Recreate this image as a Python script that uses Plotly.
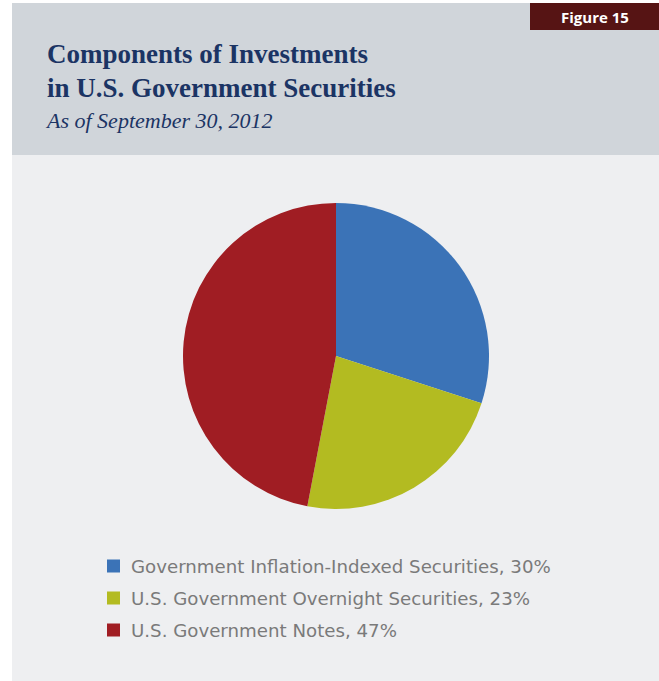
import plotly.graph_objects as go

# Portfolio components, percent of total
categories = [
    "Government Inflation-Indexed Securities",
    "U.S. Government Overnight Securities",
    "U.S. Government Notes",
]
shares = [30, 23, 47]
colors = ["#3b73b7", "#b3bb21", "#a01d23"]

W, H = 659, 681


def px(x):
    return x / W


def py(y):
    return 1 - y / H


fig = go.Figure(
    go.Pie(
        labels=categories,
        values=shares,
        marker=dict(colors=colors, line=dict(width=0)),
        sort=False,
        direction="clockwise",
        rotation=0,
        textinfo="none",
        hoverinfo="label+percent",
        showlegend=False,
        domain=dict(x=[px(183), px(489)], y=[py(509), py(203)]),
    )
)

shapes = [
    # header band
    dict(type="rect", xref="paper", yref="paper", x0=px(12), x1=1, y0=py(155), y1=py(3),
         fillcolor="#d0d5da", line=dict(width=0), layer="below"),
    # chart body
    dict(type="rect", xref="paper", yref="paper", x0=px(12), x1=1, y0=0, y1=py(155),
         fillcolor="#eeeff1", line=dict(width=0), layer="below"),
    # figure tag
    dict(type="rect", xref="paper", yref="paper", x0=px(530), x1=1, y0=py(30), y1=py(3),
         fillcolor="#561414", line=dict(width=0), layer="below"),
]

annotations = [
    dict(text="<b>Figure 15</b>", x=px(595), y=py(17), xref="paper", yref="paper",
         xanchor="center", yanchor="middle", showarrow=False,
         font=dict(family="Open Sans", size=15, color="#ffffff")),
    dict(text="<b>Components of Investments</b>", x=px(45), y=py(54), xref="paper", yref="paper",
         xanchor="left", yanchor="middle", showarrow=False,
         font=dict(family="Liberation Serif", size=27, color="#1b3464")),
    dict(text="<b>in U.S. Government Securities</b>", x=px(45), y=py(88), xref="paper", yref="paper",
         xanchor="left", yanchor="middle", showarrow=False,
         font=dict(family="Liberation Serif", size=27, color="#1b3464")),
    dict(text="<i>As of September 30, 2012</i>", x=px(43), y=py(120), xref="paper", yref="paper",
         xanchor="left", yanchor="middle", showarrow=False,
         font=dict(family="Liberation Serif", size=22, color="#1b3464")),
]

# Legend drawn as swatches plus labels that carry each share
row_y = [566, 598, 630]
for name, val, col, ry in zip(categories, shares, colors, row_y):
    shapes.append(dict(type="rect", xref="paper", yref="paper",
                       x0=px(107), x1=px(120), y0=py(ry + 6.5), y1=py(ry - 6.5),
                       fillcolor=col, line=dict(width=0)))
    annotations.append(dict(text=f"{name}, {val}%", x=px(129), y=py(ry), xref="paper", yref="paper",
                            xanchor="left", yanchor="middle", showarrow=False,
                            font=dict(family="DejaVu Sans", size=18.2, color="#7a7a7a")))

fig.update_layout(
    width=W, height=H,
    margin=dict(l=0, r=0, t=0, b=0),
    paper_bgcolor="#ffffff",
    plot_bgcolor="#ffffff",
    shapes=shapes,
    annotations=annotations,
)

fig.write_html("out.html", config={"displayModeBar": False})
